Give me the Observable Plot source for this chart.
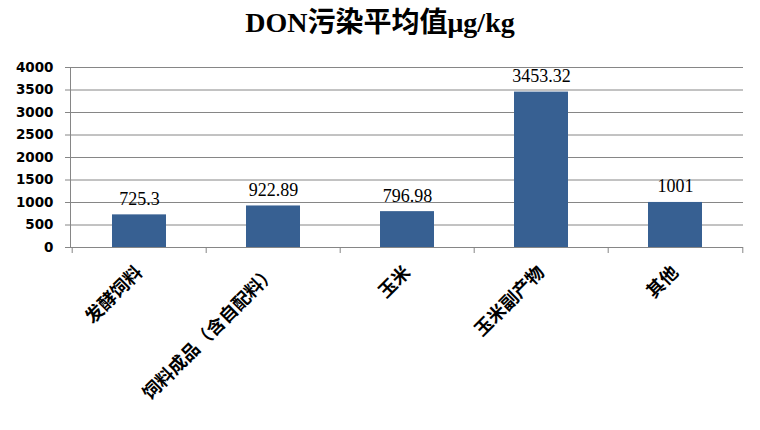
<!DOCTYPE html>
<html>
<head>
<meta charset="utf-8">
<script src="https://cdn.jsdelivr.net/npm/d3@7"></script>
<script src="https://cdn.jsdelivr.net/npm/@observablehq/plot@0.6"></script>
<style>
body { margin: 0; background: #fff; }
#title { height: 56px; line-height: 60px; text-align: center; font: bold 28px "Liberation Serif", "Noto Sans CJK SC", serif; color: #000; }
</style>
</head>
<body>
<div id="title">DON污染平均值μg/kg</div>
<div id="chart"></div>
<script>
const categories = ["发酵饲料", "饲料成品（含自配料）", "玉米", "玉米副产物", "其他"];
const values = [725.3, 922.89, 796.98, 3453.32, 1001];
const valueLabels = ["725.3", "922.89", "796.98", "3453.32", "1001"];
const yTicks = [0, 500, 1000, 1500, 2000, 2500, 3000, 3500, 4000];

const data = categories.map((c, i) => ({category: c, value: values[i], label: valueLabels[i]}));

const W = 760, ML = 70, MR = 17;
const step = (W - ML - MR) / categories.length;
const grid = "#868686";

const chart = Plot.plot({
  width: W,
  height: 374,
  marginTop: 11,
  marginBottom: 183,
  marginLeft: ML,
  marginRight: MR,
  x: {domain: categories, paddingInner: 0.6, paddingOuter: 0.3, label: null},
  y: {domain: [0, 4000], label: null},
  marks: [
    Plot.gridY(yTicks, {stroke: grid, strokeOpacity: 1}),
    Plot.barY(data, {x: "category", y: "value", fill: "#376092"}),
    Plot.ruleY([0], {stroke: grid}),
    Plot.frame({anchor: "left", stroke: grid}),
    Plot.ruleX(categories, {x: d => d, y1: 0, y2: 0, insetBottom: -6, dx: -step / 2, stroke: grid}),
    Plot.ruleX(categories.slice(-1), {x: d => d, y1: 0, y2: 0, insetBottom: -6, dx: step / 2, stroke: grid}),
    Plot.axisY(yTicks, {tickSize: 5, tickPadding: 12, stroke: grid, fill: "#000", fontSize: 13.5, fontWeight: "bold", fontFamily: "DejaVu Sans", tickFormat: d => String(d)}),
    Plot.axisX({tickSize: 0, tickPadding: 22, tickRotate: -45, fontSize: 18, fontWeight: "bold", fontFamily: "Noto Sans CJK SC", fill: "#000"}),
    Plot.text(data, {x: "category", y: "value", text: "label", lineAnchor: "bottom", dy: -10, fontSize: 18, fontFamily: "Liberation Serif", fill: "#000"})
  ]
});
document.getElementById("chart").appendChild(chart);
</script>
</body>
</html>
